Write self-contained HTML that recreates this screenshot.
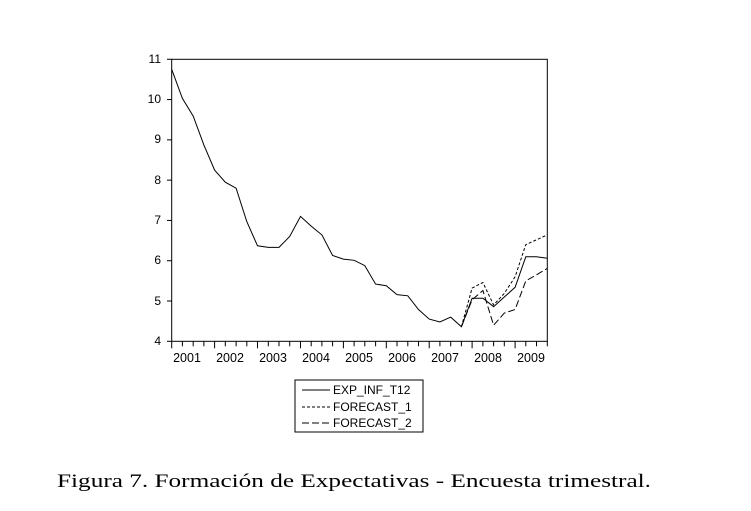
<!DOCTYPE html>
<html><head><meta charset="utf-8"><style>
html,body{margin:0;padding:0;background:#fff;}
svg{display:block;}
</style></head><body>
<svg id="svg" width="751" height="511" xmlns="http://www.w3.org/2000/svg" font-family="Liberation Sans, Arial, sans-serif">
<rect width="751" height="511" fill="#fff"/>
<rect x="171.7" y="59.3" width="375.6" height="282" fill="none" stroke="#000" stroke-width="1"/>
<g font-size="12" text-anchor="end" fill="#000">
<text x="161" y="345">4</text><text x="161" y="305">5</text><text x="161" y="264">6</text><text x="161" y="224">7</text><text x="161" y="184">8</text><text x="161" y="143">9</text><text x="161" y="103">10</text><text x="161" y="63">11</text>
</g>
<g font-size="12.5" text-anchor="middle" fill="#000">
<text x="187" y="362">2001</text><text x="230" y="362">2002</text><text x="273" y="362">2003</text><text x="316" y="362">2004</text><text x="359" y="362">2005</text><text x="402" y="362">2006</text><text x="445" y="362">2007</text><text x="488" y="362">2008</text><text x="531" y="362">2009</text>
</g>
<g id="ticks" stroke="#000" stroke-width="1"></g>
<path id="s0" fill="none" stroke="#000" stroke-width="1"/>
<path id="s1" fill="none" stroke="#000" stroke-width="1" stroke-dasharray="3,2"/>
<path id="s2" fill="none" stroke="#000" stroke-width="1" stroke-dasharray="7,3"/>
<rect x="295" y="380" width="128" height="52" fill="none" stroke="#000" stroke-width="1"/>
<line x1="302" y1="390" x2="330" y2="390" stroke="#000"/>
<line x1="302" y1="407" x2="330" y2="407" stroke="#000" stroke-dasharray="3,2"/>
<line x1="302" y1="423" x2="330" y2="423" stroke="#000" stroke-dasharray="7,3"/>
<g font-size="12" fill="#000">
<text x="333" y="394">EXP_INF_T12</text>
<text x="333" y="411">FORECAST_1</text>
<text x="333" y="427">FORECAST_2</text>
</g>
<text x="57" y="487" font-family="Liberation Serif, serif" font-size="19" textLength="594" lengthAdjust="spacingAndGlyphs">Figura 7. Formación de Expectativas - Encuesta trimestral.</text>
<script>
var x0=171.7,dx=10.73,y=function(v){return 341.3-(v-4)*40.29;};
var a=[10.75,10.03,9.59,8.87,8.25,7.95,7.80,6.97,6.37,6.33,6.33,6.60,7.10,6.86,6.64,6.13,6.04,6.01,5.88,5.42,5.38,5.16,5.13,4.79,4.55,4.48,4.60,4.36,5.07,5.07,4.86,5.10,5.34,6.10,6.10,6.06];
var f1=[4.36,5.32,5.46,4.90,5.19,5.60,6.40,6.52,6.64];
var f2=[4.36,5.03,5.26,4.40,4.70,4.79,5.50,5.65,5.81];
function p(arr,s){return arr.map(function(v,i){return (i?'L':'M')+(x0+(i+s)*dx).toFixed(1)+' '+y(v).toFixed(1);}).join(' ');}
document.getElementById('s0').setAttribute('d',p(a,0));
document.getElementById('s1').setAttribute('d',p(f1,27));
document.getElementById('s2').setAttribute('d',p(f2,27));
var g=document.getElementById('ticks'),NS='http://www.w3.org/2000/svg';
function ln(x1,y1,x2,y2){var e=document.createElementNS(NS,'line');e.setAttribute('x1',x1);e.setAttribute('y1',y1);e.setAttribute('x2',x2);e.setAttribute('y2',y2);g.appendChild(e);}
for(var i=0;i<36;i++){var xx=(x0+i*dx).toFixed(1);var L=(i%4==0)?7:5;ln(xx,341.3,xx,341.3+L);}
for(var v=4;v<=11;v++){ln(167,y(v),171.7,y(v));}
</script>
</svg>
</body></html>
